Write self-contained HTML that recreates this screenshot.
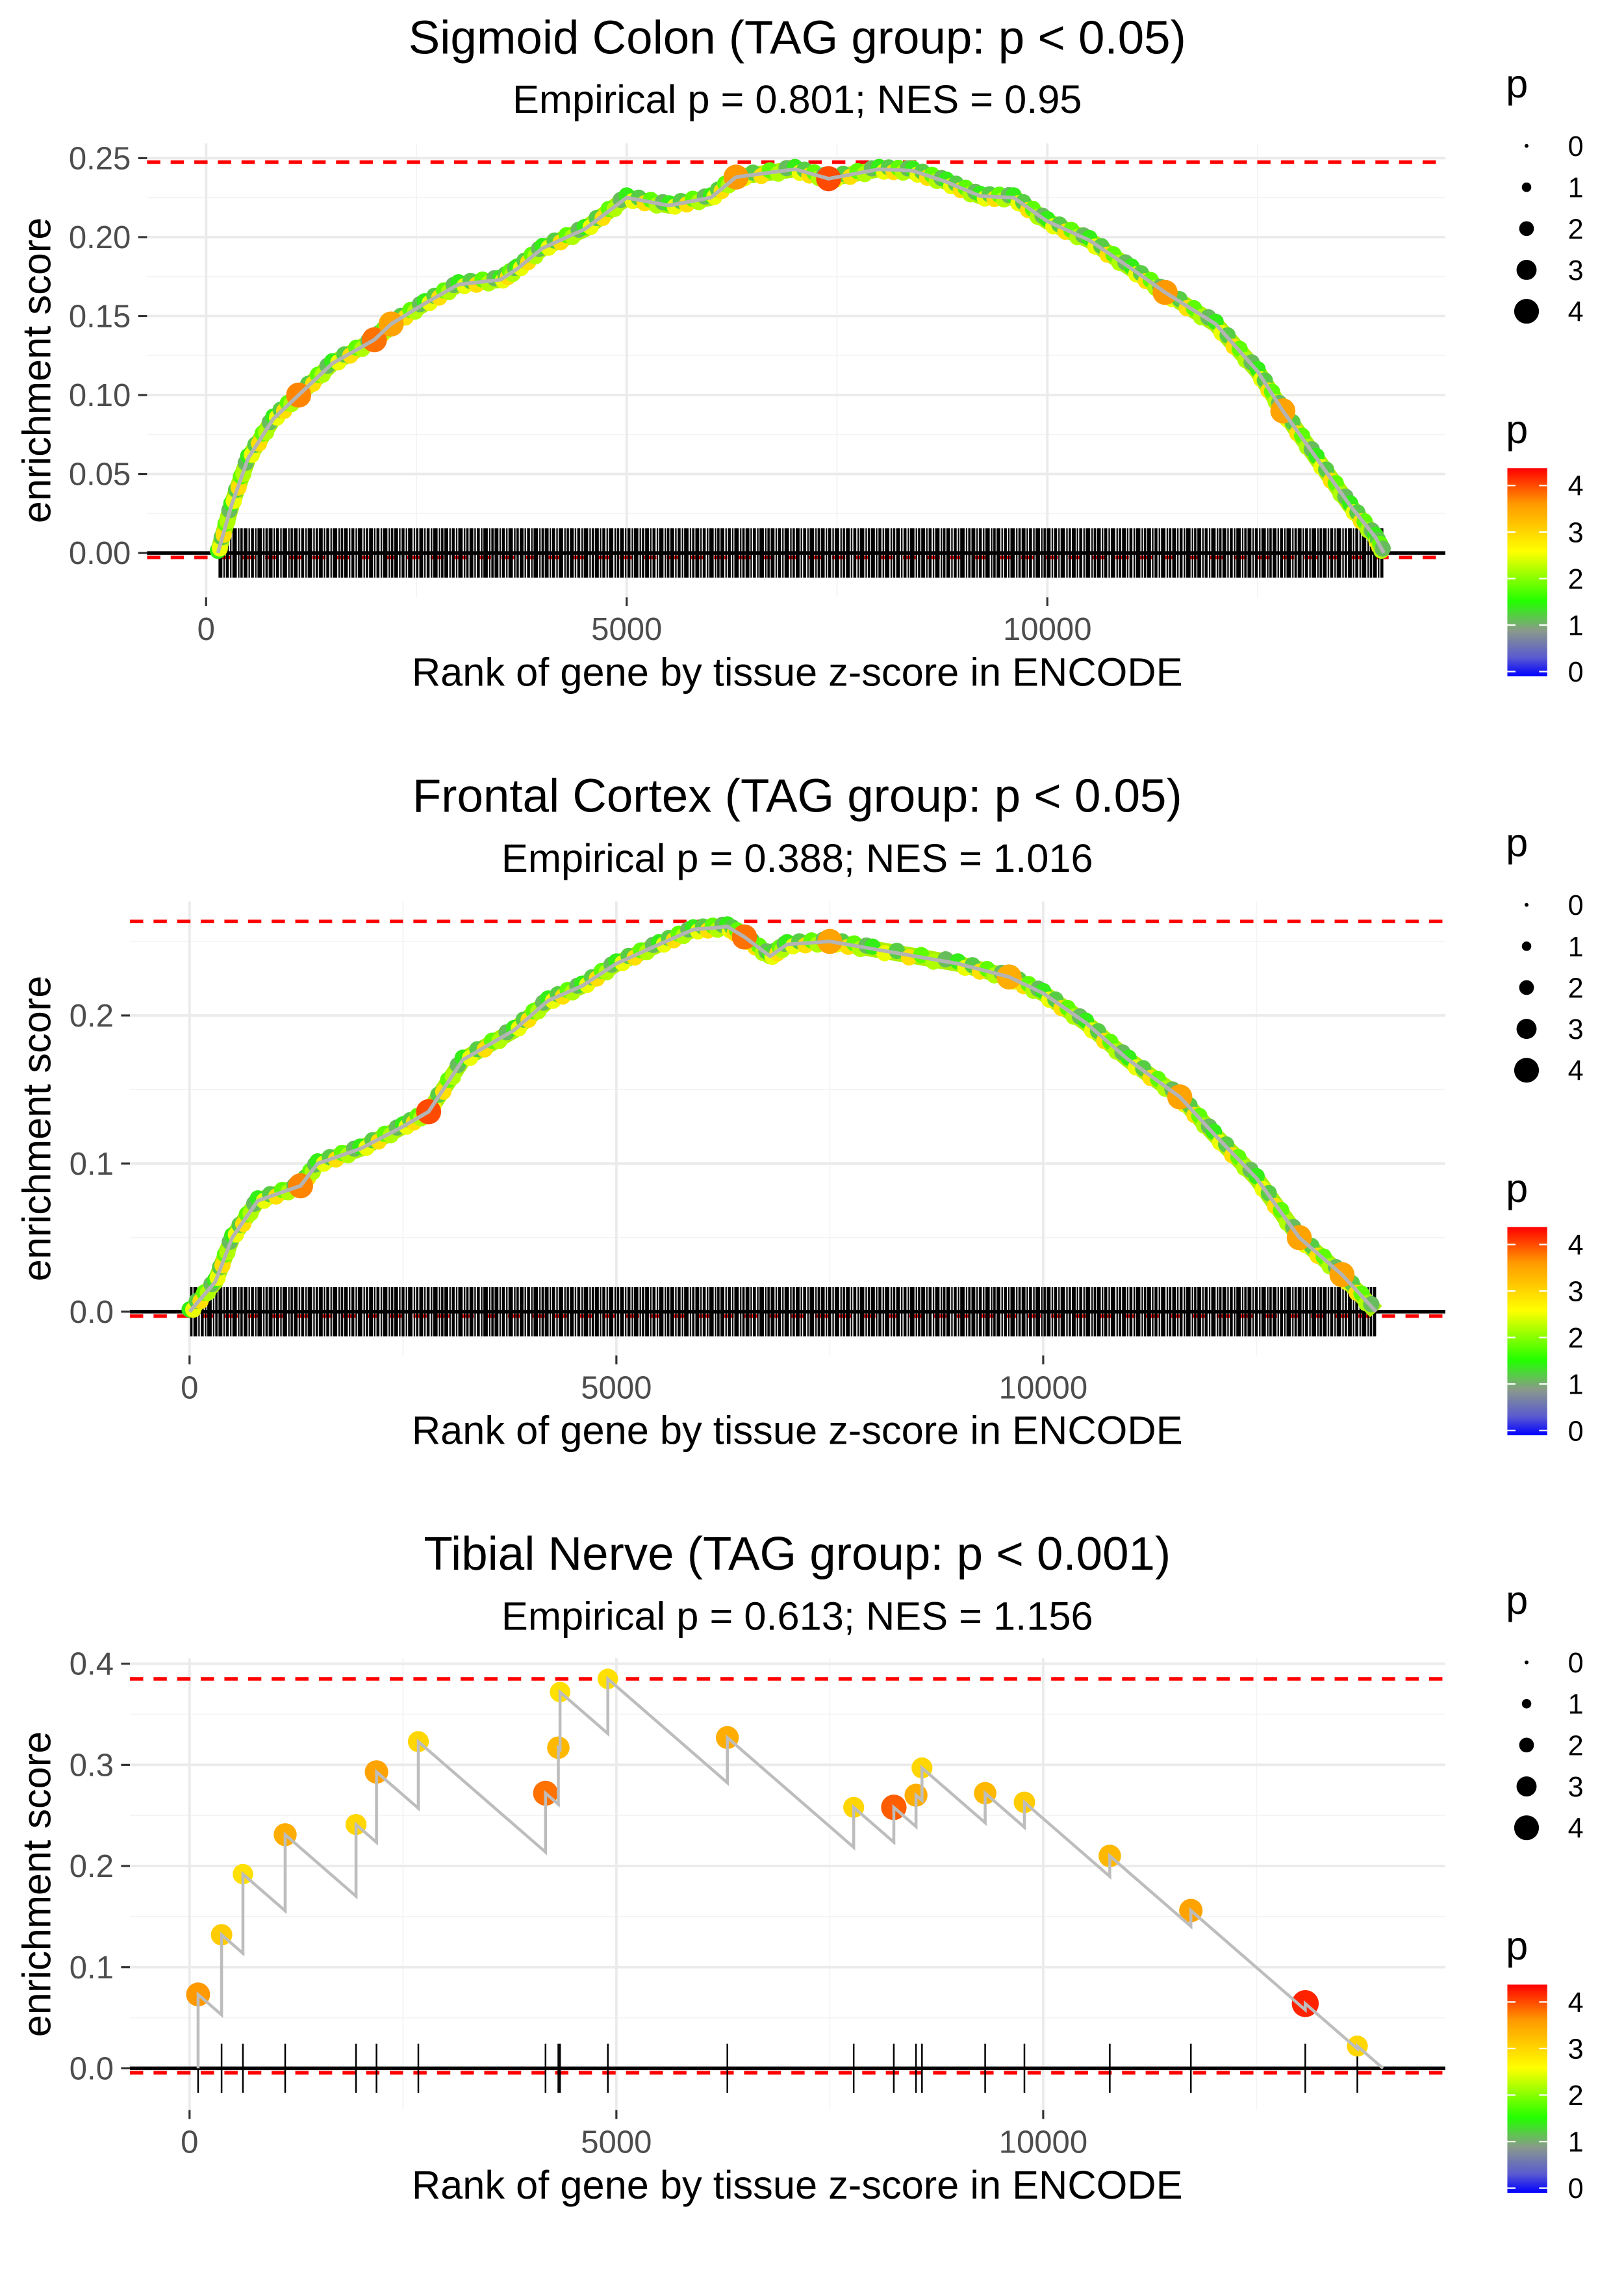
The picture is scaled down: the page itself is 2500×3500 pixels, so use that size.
<!DOCTYPE html>
<html><head><meta charset="utf-8">
<style>
html,body{margin:0;padding:0;background:#fff;}
svg{display:block;font-family:"Liberation Sans",sans-serif;}
</style></head>
<body>
<svg id="chart" width="2500" height="3500" viewBox="0 0 1100 1540" xmlns="http://www.w3.org/2000/svg">
<defs>
<linearGradient id="cbar" x1="0" y1="1" x2="0" y2="0">
<stop offset="0" stop-color="#0000ff"/>
<stop offset="0.09" stop-color="#5a5ad0"/>
<stop offset="0.22" stop-color="#8a9a8a"/>
<stop offset="0.36" stop-color="#22ff00"/>
<stop offset="0.6" stop-color="#ffff00"/>
<stop offset="0.83" stop-color="#ff9900"/>
<stop offset="1" stop-color="#ff0000"/>
</linearGradient>
<pattern id="ticks" x="0" y="0" width="17" height="40" patternUnits="userSpaceOnUse">
<rect x="0" y="0" width="2" height="40" fill="#000"/>
<rect x="2.8" y="0" width="1" height="40" fill="#000"/>
<rect x="4.4" y="0" width="3" height="40" fill="#000"/>
<rect x="8.2" y="0" width="1" height="40" fill="#000"/>
<rect x="9.8" y="0" width="1.6" height="40" fill="#000"/>
<rect x="12" y="0" width="2.6" height="40" fill="#000"/>
<rect x="15.3" y="0" width="1" height="40" fill="#000"/>
</pattern>
</defs>
</svg>
<script>
// ---- Panel 1 data: Sigmoid Colon ----
const p1Ranks = [140,300,500,800,1100,1500,2000,2200,2600,3000,3500,3700,4000,4500,5000,5500,6000,6300,7000,7400,8000,8400,8800,9200,9600,10000,10500,11000,11400,12000,12500,12800,13200,13600,13900,14000];
const p1ES    = [0,0.03,0.06,0.085,0.1,0.12,0.135,0.145,0.158,0.17,0.173,0.18,0.193,0.205,0.225,0.22,0.225,0.238,0.243,0.237,0.243,0.242,0.235,0.226,0.225,0.21,0.198,0.18,0.165,0.145,0.115,0.09,0.06,0.03,0.01,0];
const p1P     = [1.5,3,2.5,2,3.7,2,3.8,3.5,2.5,2,2,1.5,2,1.5,1.5,2,2.5,3.6,2.5,4,2.5,1.5,3.2,2,1.5,1.5,2.5,2,3.6,2,1.5,3.5,3,2,1.5,1.5];
// ---- Panel 2 data: Frontal Cortex ----
const p2Ranks = [0,300,500,800,1300,1500,2000,2500,2800,3200,3800,4200,4600,5000,5500,5900,6300,6500,6800,7000,7500,8000,9000,9600,10000,10500,11000,11600,12000,12500,13000,13500,13900];
const p2ES    = [0,0.02,0.05,0.075,0.085,0.1,0.11,0.125,0.135,0.17,0.19,0.21,0.22,0.235,0.248,0.258,0.26,0.253,0.24,0.248,0.25,0.245,0.235,0.226,0.215,0.195,0.17,0.145,0.12,0.09,0.05,0.025,0];
const p2P     = [1.5,2,2.5,2,3.7,3,3,2,4,2.5,2,1.5,2,3,2,3,2.5,3.8,1.5,2.5,3.5,2,2,3.4,1.5,1.5,2,3.5,2,3,3.5,3.5,1.5];
// ---- Panel 3 data: Tibial Nerve ----
const p3Ranks = [100,375,625,1120,1950,2190,2680,4170,4320,4340,4900,6300,7780,8250,8510,8580,9320,9780,10780,11730,13070,13680];
const p3ES    = [0.073,0.132,0.192,0.231,0.241,0.293,0.323,0.272,0.317,0.372,0.385,0.327,0.258,0.258,0.27,0.297,0.272,0.263,0.21,0.156,0.064,0.022];
const p3P     = [3.6,3.1,2.9,3.4,3.0,3.5,3.0,3.8,3.3,2.9,2.9,3.4,3.0,3.9,3.4,3.0,3.3,3.1,3.3,3.5,4.2,3.0];
const p3N = 13980;
const xTicks = [0,5000,10000];
const sizeLegend = [0,1,2,3,4];
const colorLegend = [4,3,2,1,0];

const NS="http://www.w3.org/2000/svg";
const svg=document.getElementById('chart');
function mk(tag,attrs,parent){const e=document.createElementNS(NS,tag);for(const k in attrs)e.setAttribute(k,attrs[k]);(parent||svg).appendChild(e);return e;}
function txt(s,attrs,parent){const e=mk('text',attrs,parent);e.textContent=s;return e;}
function lerp(a,b,t){return a+(b-a)*t;}
function pcol(p){
  const stops=[[0,[0,0,255]],[0.3,[90,90,208]],[0.9,[138,154,138]],[1.5,[34,255,0]],[2.6,[255,255,0]],[3.6,[255,153,0]],[4.37,[255,0,0]]];
  if(p<=0)return 'rgb(0,0,255)';
  for(let i=1;i<stops.length;i++){if(p<=stops[i][0]){const t=(p-stops[i-1][0])/(stops[i][0]-stops[i-1][0]);const a=stops[i-1][1],b=stops[i][1];return `rgb(${Math.round(lerp(a[0],b[0],t))},${Math.round(lerp(a[1],b[1],t))},${Math.round(lerp(a[2],b[2],t))})`;}}
  return 'rgb(255,0,0)';
}
function prad(p){return 2+p*1.7;}

function panel(cfg){
  const g=mk('g',{});
  
  
  const L=cfg.left,R=979;
  const X=r=>cfg.x0+r*cfg.xs, Y=v=>cfg.y0-v*cfg.ys;
  cfg.yMinor.forEach(v=>mk('line',{x1:L,x2:R,y1:Y(v),y2:Y(v),stroke:'#f4f4f4','stroke-width':0.8},g));
  [2500,7500,12500].forEach(v=>mk('line',{x1:X(v),x2:X(v),y1:cfg.top,y2:cfg.bot,stroke:'#f4f4f4','stroke-width':0.8},g));
  cfg.yTicks.forEach(v=>mk('line',{x1:L,x2:R,y1:Y(v),y2:Y(v),stroke:'#ebebeb','stroke-width':1.7},g));
  xTicks.forEach(v=>mk('line',{x1:X(v),x2:X(v),y1:cfg.top,y2:cfg.bot,stroke:'#ebebeb','stroke-width':1.7},g));
  cfg.yTicks.forEach((v,i)=>{mk('line',{x1:L-6,x2:L,y1:Y(v),y2:Y(v),stroke:'#333','stroke-width':1.4},g);
    const t=txt(cfg.yLabels[i],{x:L-11,y:Y(v)+7.5,'text-anchor':'end','font-size':21.6,fill:'#4d4d4d'},g);
    });
  xTicks.forEach(v=>{mk('line',{x1:X(v),x2:X(v),y1:cfg.bot,y2:cfg.bot+6,stroke:'#333','stroke-width':1.4},g);
    const t=txt(String(v),{x:X(v),y:cfg.bot+29,'text-anchor':'middle','font-size':21.6,fill:'#4d4d4d'},g);
    });
  let t=txt(cfg.title,{x:540,y:cfg.titleY,'text-anchor':'middle','font-size':32,fill:'#000'},g);
  
  t=txt(cfg.sub,{x:540,y:cfg.subY,'text-anchor':'middle','font-size':27,fill:'#000'},g);
  
  t=txt('Rank of gene by tissue z-score in ENCODE',{x:540,y:cfg.bot+60,'text-anchor':'middle','font-size':27,fill:'#000'},g);
  
  const cy=(cfg.top+cfg.bot)/2;
  t=txt('enrichment score',{x:34,y:cy,'text-anchor':'middle','font-size':27,fill:'#000',transform:`rotate(-90 34 ${cy})`},g);
  
  const mx=mk('line',{x1:L,x2:R,y1:Y(cfg.maxES),y2:Y(cfg.maxES),stroke:'#ff0000','stroke-width':2.4,'stroke-dasharray':'9,7'},g);
  
  mk('line',{x1:L,x2:R,y1:Y(0)+3,y2:Y(0)+3,stroke:'#ff0000','stroke-width':2.4,'stroke-dasharray':'9,7'},g);
  return {g,X,Y,L,R};
}

function legends(off){
  const g=mk('g',{});
  
  
  txt('p',{x:1020,y:66+off,'font-size':27,fill:'#000'},g);
  sizeLegend.forEach((v,i)=>{
    const cy=98.8+off+i*28;
    const c=mk('circle',{cx:1034,cy:cy,r:[1.3,3.2,5,6.8,8.4][i],fill:'#000'},g);
    
    txt(String(v),{x:1062,y:cy+6.8,'font-size':19,fill:'#000'},g);
  });
  txt('p',{x:1020,y:300+off,'font-size':27,fill:'#000'},g);
  const r=mk('rect',{x:1021,y:317+off,width:27,height:141,fill:'url(#cbar)'},g);
  
  colorLegend.forEach((v,i)=>{
    const y=328.8+off+i*31.5;
    mk('line',{x1:1021,x2:1026.5,y1:y,y2:y,stroke:'#fff','stroke-width':1},g);
    mk('line',{x1:1042.5,x2:1048,y1:y,y2:y,stroke:'#fff','stroke-width':1},g);
    txt(String(v),{x:1062,y:y+6.8,'font-size':19,fill:'#000'},g);
  });
}

function densePanel(cfg,ranks,es,ps){
  const P=panel(cfg);
  const {g,X,Y,L,R}=P;
  const band=mk('rect',{x:X(ranks[0]),y:Y(0)-cfg.tick,width:X(ranks[ranks.length-1])-X(ranks[0]),height:cfg.tick*2,fill:'url(#ticks)'},g);
  
  mk('line',{x1:L,x2:R,y1:Y(0),y2:Y(0),stroke:'#000','stroke-width':2.4},g);
  const pts=ranks.map((r,i)=>X(r)+','+Y(es[i])).join(' ');
  mk('polyline',{points:pts,fill:'none',stroke:'#aaf000','stroke-width':11,'stroke-linejoin':'round'},g);
  for(let i=0;i<ranks.length-1;i++){
    const n=7;
    for(let k=0;k<n;k++){
      const t=k/n;
      const p=[1.4,2.5,1.2,2.9,1.8,2.2,1.1][k];
      const c=mk('circle',{cx:lerp(X(ranks[i]),X(ranks[i+1]),t),cy:lerp(Y(es[i]),Y(es[i+1]),t)+((k%2)?1.5:-1.5),r:5.5,fill:pcol(p)},g);
      
    }
  }
  ranks.forEach((r,i)=>{
    if(ps[i]>3.3){
      const c=mk('circle',{cx:X(r),cy:Y(es[i]),r:8.5,fill:pcol(ps[i])},g);
      
    }
  });
  mk('polyline',{points:pts,fill:'none',stroke:'#b4b4b4','stroke-width':2.5,'stroke-linejoin':'round'},g);
}

densePanel({name:'panel-sigmoid-colon',left:99.6,x0:139.6,xs:0.05698,y0:374.5,ys:1069.6,top:97,bot:404.5,
  yTicks:[0,0.05,0.1,0.15,0.2,0.25],yLabels:['0.00','0.05','0.10','0.15','0.20','0.25'],yMinor:[0.025,0.075,0.125,0.175,0.225],
  title:'Sigmoid Colon (TAG group: p < 0.05)',sub:'Empirical p = 0.801; NES = 0.95',titleY:36.4,subY:76.5,maxES:0.2475,tick:16.7},p1Ranks,p1ES,p1P);
legends(0);

densePanel({name:'panel-frontal-cortex',left:88,x0:128.4,xs:0.05782,y0:888.3,ys:1003,top:610.5,bot:918,
  yTicks:[0,0.1,0.2],yLabels:['0.0','0.1','0.2'],yMinor:[0.05,0.15,0.25],
  title:'Frontal Cortex (TAG group: p < 0.05)',sub:'Empirical p = 0.388; NES = 1.016',titleY:549.7,subY:590.4,maxES:0.2635,tick:16.7},p2Ranks,p2ES,p2P);
legends(514);

(function(){
  const cfg={name:'panel-tibial-nerve',left:88,x0:128.4,xs:0.05782,y0:1400.7,ys:685,top:1123,bot:1429,
  yTicks:[0,0.1,0.2,0.3,0.4],yLabels:['0.0','0.1','0.2','0.3','0.4'],yMinor:[0.05,0.15,0.25,0.35],
  title:'Tibial Nerve (TAG group: p < 0.001)',sub:'Empirical p = 0.613; NES = 1.156',titleY:1063,subY:1103.8,maxES:0.385};
  const {g,X,Y,L,R}=panel(cfg);
  const slope=p3ES[p3ES.length-1]/(p3N-p3Ranks[p3Ranks.length-1]);
  p3Ranks.forEach(r=>{
    const l=mk('line',{x1:X(r),x2:X(r),y1:Y(0)-16.6,y2:Y(0)+16.6,stroke:'#000','stroke-width':1.1},g);
    
  });
  mk('line',{x1:L,x2:R,y1:Y(0),y2:Y(0),stroke:'#000','stroke-width':2.4},g);
  let pts=[];
  pts.push([X(p3Ranks[0]),Y(0)]);
  const bases=[];
  p3Ranks.forEach((r,i)=>{
    const base=i===0?0:p3ES[i-1]-slope*(r-p3Ranks[i-1]);
    bases.push(base);
    pts.push([X(r),Y(base)]);pts.push([X(r),Y(p3ES[i])]);
  });
  pts.push([X(p3N),Y(0)]);
  bases.forEach((b,i)=>{if(i>0)mk('circle',{cx:X(p3Ranks[i]),cy:Y(b),r:1,fill:'#6060ff'},g);});
  p3Ranks.forEach((r,i)=>{
    const c=mk('circle',{cx:X(r),cy:Y(p3ES[i]),r:prad(p3P[i]),fill:pcol(p3P[i])},g);
    
  });
  mk('polyline',{points:pts.map(p=>p.join(',')).join(' '),fill:'none',stroke:'#bdbdbd','stroke-width':2},g);
})();
legends(1027);
</script>
</body></html>
